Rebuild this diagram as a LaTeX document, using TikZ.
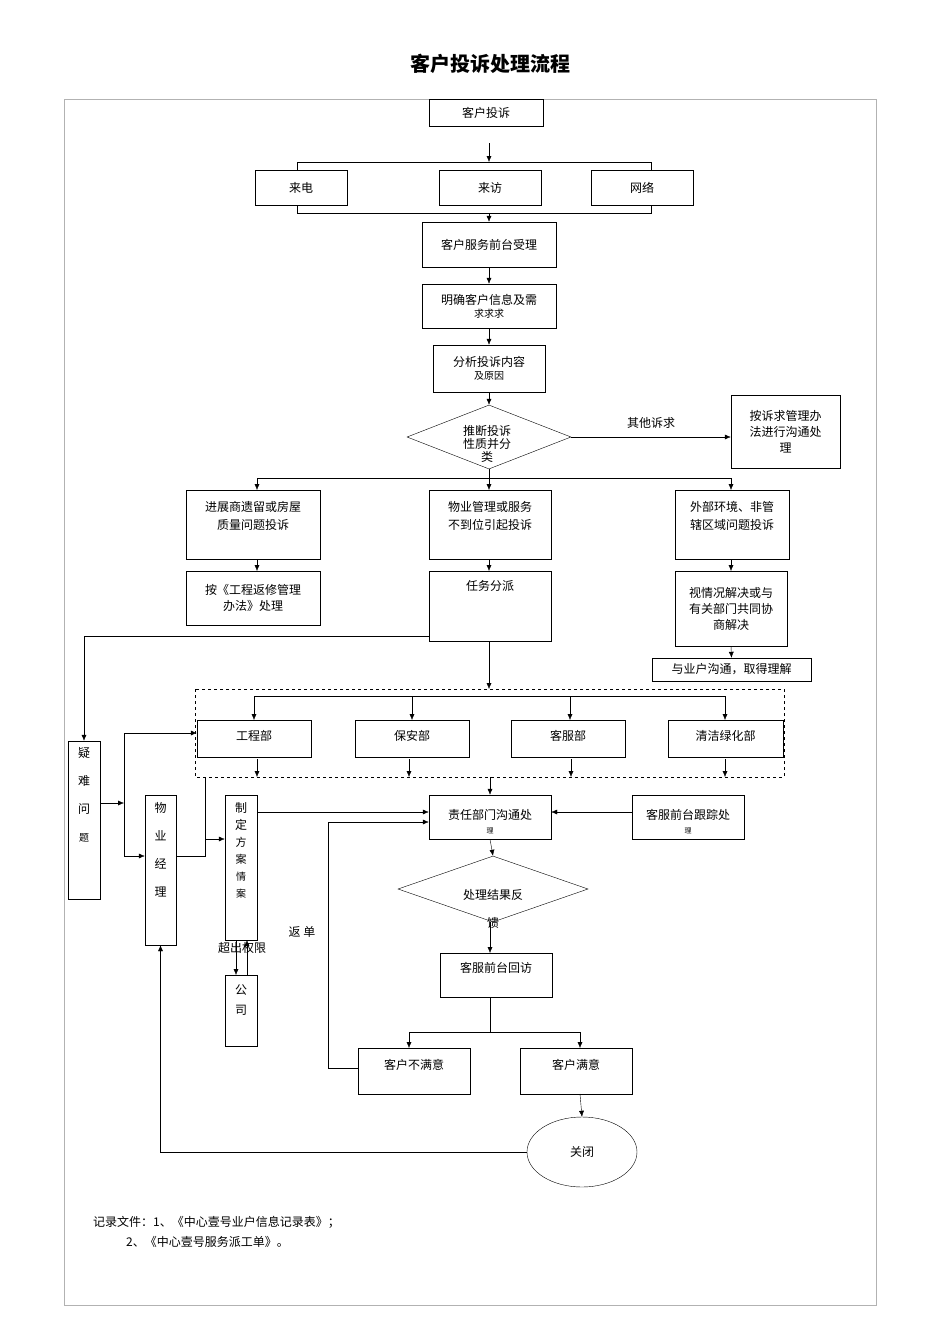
\documentclass[tikz,border=0pt]{standalone}
\usepackage{fontspec}
\setmainfont{Noto Sans CJK SC}
\usetikzlibrary{arrows.meta,shapes.geometric}
\begin{document}
\begin{tikzpicture}[x=1pt,y=-1pt,
  bx/.style={draw,thin,inner sep=0pt,font=\fontsize{12}{16}\selectfont,align=center},
  ar/.style={-{Latex[length=6pt,width=5pt]},thin},
  ln/.style={thin},
  lb/.style={font=\fontsize{12}{15}\selectfont,inner sep=0pt}]
\useasboundingbox (0,0) rectangle (950,1344);
\node[font=\fontsize{20}{24}\selectfont\bfseries] (title) at (490,64) {客户投诉处理流程};
\draw[gray!60] (64,99) rectangle (876,1305);
% boxes: define with rectangles as nodes
\newcommand{\bxn}[6]{\node[bx,minimum width=#4-#2,minimum height=#5-#3,anchor=north west] (#1) at (#2,#3) {};\node[lb,align=center,font=\fontsize{12}{18}\selectfont] (#1t) at ({(#2+#4)/2},#3+17) [anchor=north] {#6};}
\node[bx,minimum width=114,minimum height=27] (a) at (486,112.5) {客户投诉};
\node[bx,minimum width=92,minimum height=35] (b1) at (301,187.5) {来电};
\node[bx,minimum width=102,minimum height=35] (b2) at (490,187.5) {来访};
\node[bx,minimum width=102,minimum height=35] (b3) at (642,187.5) {网络};
\coordinate (t1) at (489,162); \coordinate (t2) at (489,213);
\draw[ar] (489,143) -- (t1);
\draw[ln] (297,170) |- (651,162) -- (651,170);
\draw[ln] (297,205) |- (651,213) -- (651,205);
\node[bx,minimum width=134,minimum height=45] (c) at (489,244.5) {客户服务前台受理};
\draw[ar] (t2) -- (c.north);
\node[bx,minimum width=134,minimum height=44] (d) at (489,306) {明确客户信息及需\\[-3pt]{\fontsize{10}{12}\selectfont 求求求}};
\draw[ar] (c) -- (d);
\node[bx,minimum width=112,minimum height=47] (e) at (489,368.5) {分析投诉内容\\[-3pt]{\fontsize{10}{12}\selectfont 及原因}};
\draw[ar] (d) -- (e);
\node[bx,diamond,aspect=2.56,minimum width=164,minimum height=64] (f) at (489,437) {};
\node[lb,align=center,font=\fontsize{12}{13}\selectfont] (ft) at (487,444) {推断投诉\\性质并分\\类};
\draw[ar] (e) -- (f.north);
\node[bx,minimum width=109,minimum height=73] (g) at (785.5,431.5) {按诉求管理办\\法进行沟通处\\理};
\draw[ar] (f.east) -- (g.west |- f.east) node[lb,midway,above=8pt] {其他诉求};
\node[bx,minimum width=134,minimum height=69] (h1) at (253,524.5) {};
\node[lb,align=center,font=\fontsize{12}{18}\selectfont] at (253,516) {进展商遗留或房屋\\质量问题投诉};
\node[bx,minimum width=122,minimum height=69] (h2) at (490,524.5) {};
\node[lb,align=center,font=\fontsize{12}{18}\selectfont] at (490,516) {物业管理或服务\\不到位引起投诉};
\node[bx,minimum width=114,minimum height=69] (h3) at (732,524.5) {};
\node[lb,align=center,font=\fontsize{12}{18}\selectfont] at (732,516) {外部环境、非管\\辖区域问题投诉};
\draw[ln] (f.south) -- (489,478);
\draw[ar] (489,478) -| (257,490);
\draw[ar] (489,478) -- (489,490);
\draw[ar] (489,478) -| (731,490);
\node[bx,minimum width=134,minimum height=54] (i1) at (253,598) {按《工程返修管理\\办法》处理};
\node[bx,minimum width=122,minimum height=70] (i2) at (490,606) {};
\node[lb] at (490,586) {任务分派};
\node[bx,minimum width=112,minimum height=75] (i3) at (731,608.5) {视情况解决或与\\有关部门共同协\\商解决};
\draw[ar] (257,559) -- (257,571);
\draw[ar] (489,559) -- (489,571);
\draw[ar] (731,559) -- (731,571);
\node[bx,minimum width=159,minimum height=23] (j) at (731.5,669.5) {与业户沟通，取得理解};
\draw[ar] (731,646) -- (j.north);
% dashed group
\draw[dashed,thin] (195,689) rectangle (784,777);
\draw[ar] (489,641) -- (489,689);
\node[bx,minimum width=114,minimum height=37] (k1) at (254,738.5) {};
\node[lb] at (254,736) {工程部};
\node[bx,minimum width=114,minimum height=37] (k2) at (412,738.5) {};
\node[lb] at (412,736) {保安部};
\node[bx,minimum width=114,minimum height=37] (k3) at (568,738.5) {};
\node[lb] at (568,736) {客服部};
\node[bx,minimum width=115,minimum height=37] (k4) at (725.5,738.5) {};
\node[lb] at (725.5,736) {清洁绿化部};
\draw[ln] (254,696) -- (725,696);
\foreach \x in {254,412,570,725} \draw[ar] (\x,696) -- (\x,720);
\foreach \x in {257,409,571,725} \draw[ar] (\x,759) -- (\x,777);
\node[bx,minimum width=122,minimum height=44] (l) at (490,817) {};
\node[lb,align=center,font=\fontsize{12}{22}\selectfont] at (490,822) {责任部门沟通处\\[-8pt]{\fontsize{7}{8}\selectfont 理}};
\draw[ar] (490,777) -- (l.north);
\node[bx,minimum width=112,minimum height=44] (m) at (688,817) {};
\node[lb,align=center,font=\fontsize{12}{22}\selectfont] at (688,822) {客服前台跟踪处\\[-8pt]{\fontsize{7}{8}\selectfont 理}};
\draw[ar] (m.west |- 0,812) -- (l.east |- 0,812);
% left side
\node[bx,minimum width=32,minimum height=158] (n) at (84,820) {};
\node[lb,align=center,font=\fontsize{12}{28}\selectfont] at (84,795) {疑\\难\\问\\{\fontsize{10}{12}\selectfont 题}};
\draw[ar] (i2.west |- 0,636) -| (n.north);
\node[bx,minimum width=31,minimum height=150] (o) at (160.5,870) {};
\node[lb,align=center,font=\fontsize{12}{28}\selectfont] at (160.5,850) {物\\业\\经\\理};
\coordinate (p1) at (124,803);
\draw[ar] (n.east |- p1) -- (p1);
\draw[ar] (124,856) |- (k1.west |- 0,733);
\draw[ar] (124,803) |- (o.west |- 0,856);
\node[bx,minimum width=32,minimum height=145] (q) at (241,867.5) {};
\node[lb,align=center,font=\fontsize{12}{17}\selectfont] at (241,850) {制\\定\\{\fontsize{11}{15}\selectfont 方}\\{\fontsize{11}{15}\selectfont 案}\\{\fontsize{10}{14}\selectfont 情}\\{\fontsize{10}{14}\selectfont 案}};
\draw[ln] (o.east |- 0,856) -- (205,856) -- (205,777);
\draw[ar] (205,839) -- (q.west |- 0,839);
\draw[ar] (q.east |- 0,812) -- (l.west |- 0,812);
\node[bx,minimum width=32,minimum height=71] (r) at (241,1010.5) {};
\node[lb,align=center,font=\fontsize{12}{20}\selectfont] at (241,1000) {公\\司};
\draw[ar] (236,940) -- (236,975);
\draw[ar] (247,975) -- (247,940);
\node[lb] (s) at (242,948) {超出权限};
\node[lb] (u) at (302,932) {返 单};
% diamond 2
\node[bx,diamond,aspect=2.88,minimum width=190,minimum height=66] (v) at (493,889) {};
\node[lb] at (493,895) {处理结果反};
\node[lb] at (493,923) {馈};
\draw[ar] (l.south) -- (v.north);
\node[bx,minimum width=112,minimum height=44] (w) at (496,975) {};
\node[lb] at (496,968) {客服前台回访};
\draw[ar] (490,922) -- (490,953);
\node[bx,minimum width=112,minimum height=46] (x1) at (414,1071) {};
\node[lb] at (414,1065) {客户不满意};
\node[bx,minimum width=112,minimum height=46] (x2) at (576,1071) {};
\node[lb] at (576,1065) {客户满意};
\draw[ln] (490,997) -- (490,1032);
\draw[ar] (490,1032) -| (409,1048);
\draw[ar] (490,1032) -| (580,1048);
\draw[ar] (x1.west |- 0,1068) -- (328,1068) |- (l.west |- 0,822);
\node[bx,ellipse,minimum width=110,minimum height=70] (y) at (582,1152) {关闭};
\draw[ar] (580,1094) -- (y.north);
\draw[ar] (y.west) -| (o.south);
\node[lb,anchor=west] (z1) at (93,1222) {记录文件：1、《中心壹号业户信息记录表》；};
\node[lb,anchor=west] (z2) at (126,1242) {2、《中心壹号服务派工单》。};
\end{tikzpicture}
\end{document}
